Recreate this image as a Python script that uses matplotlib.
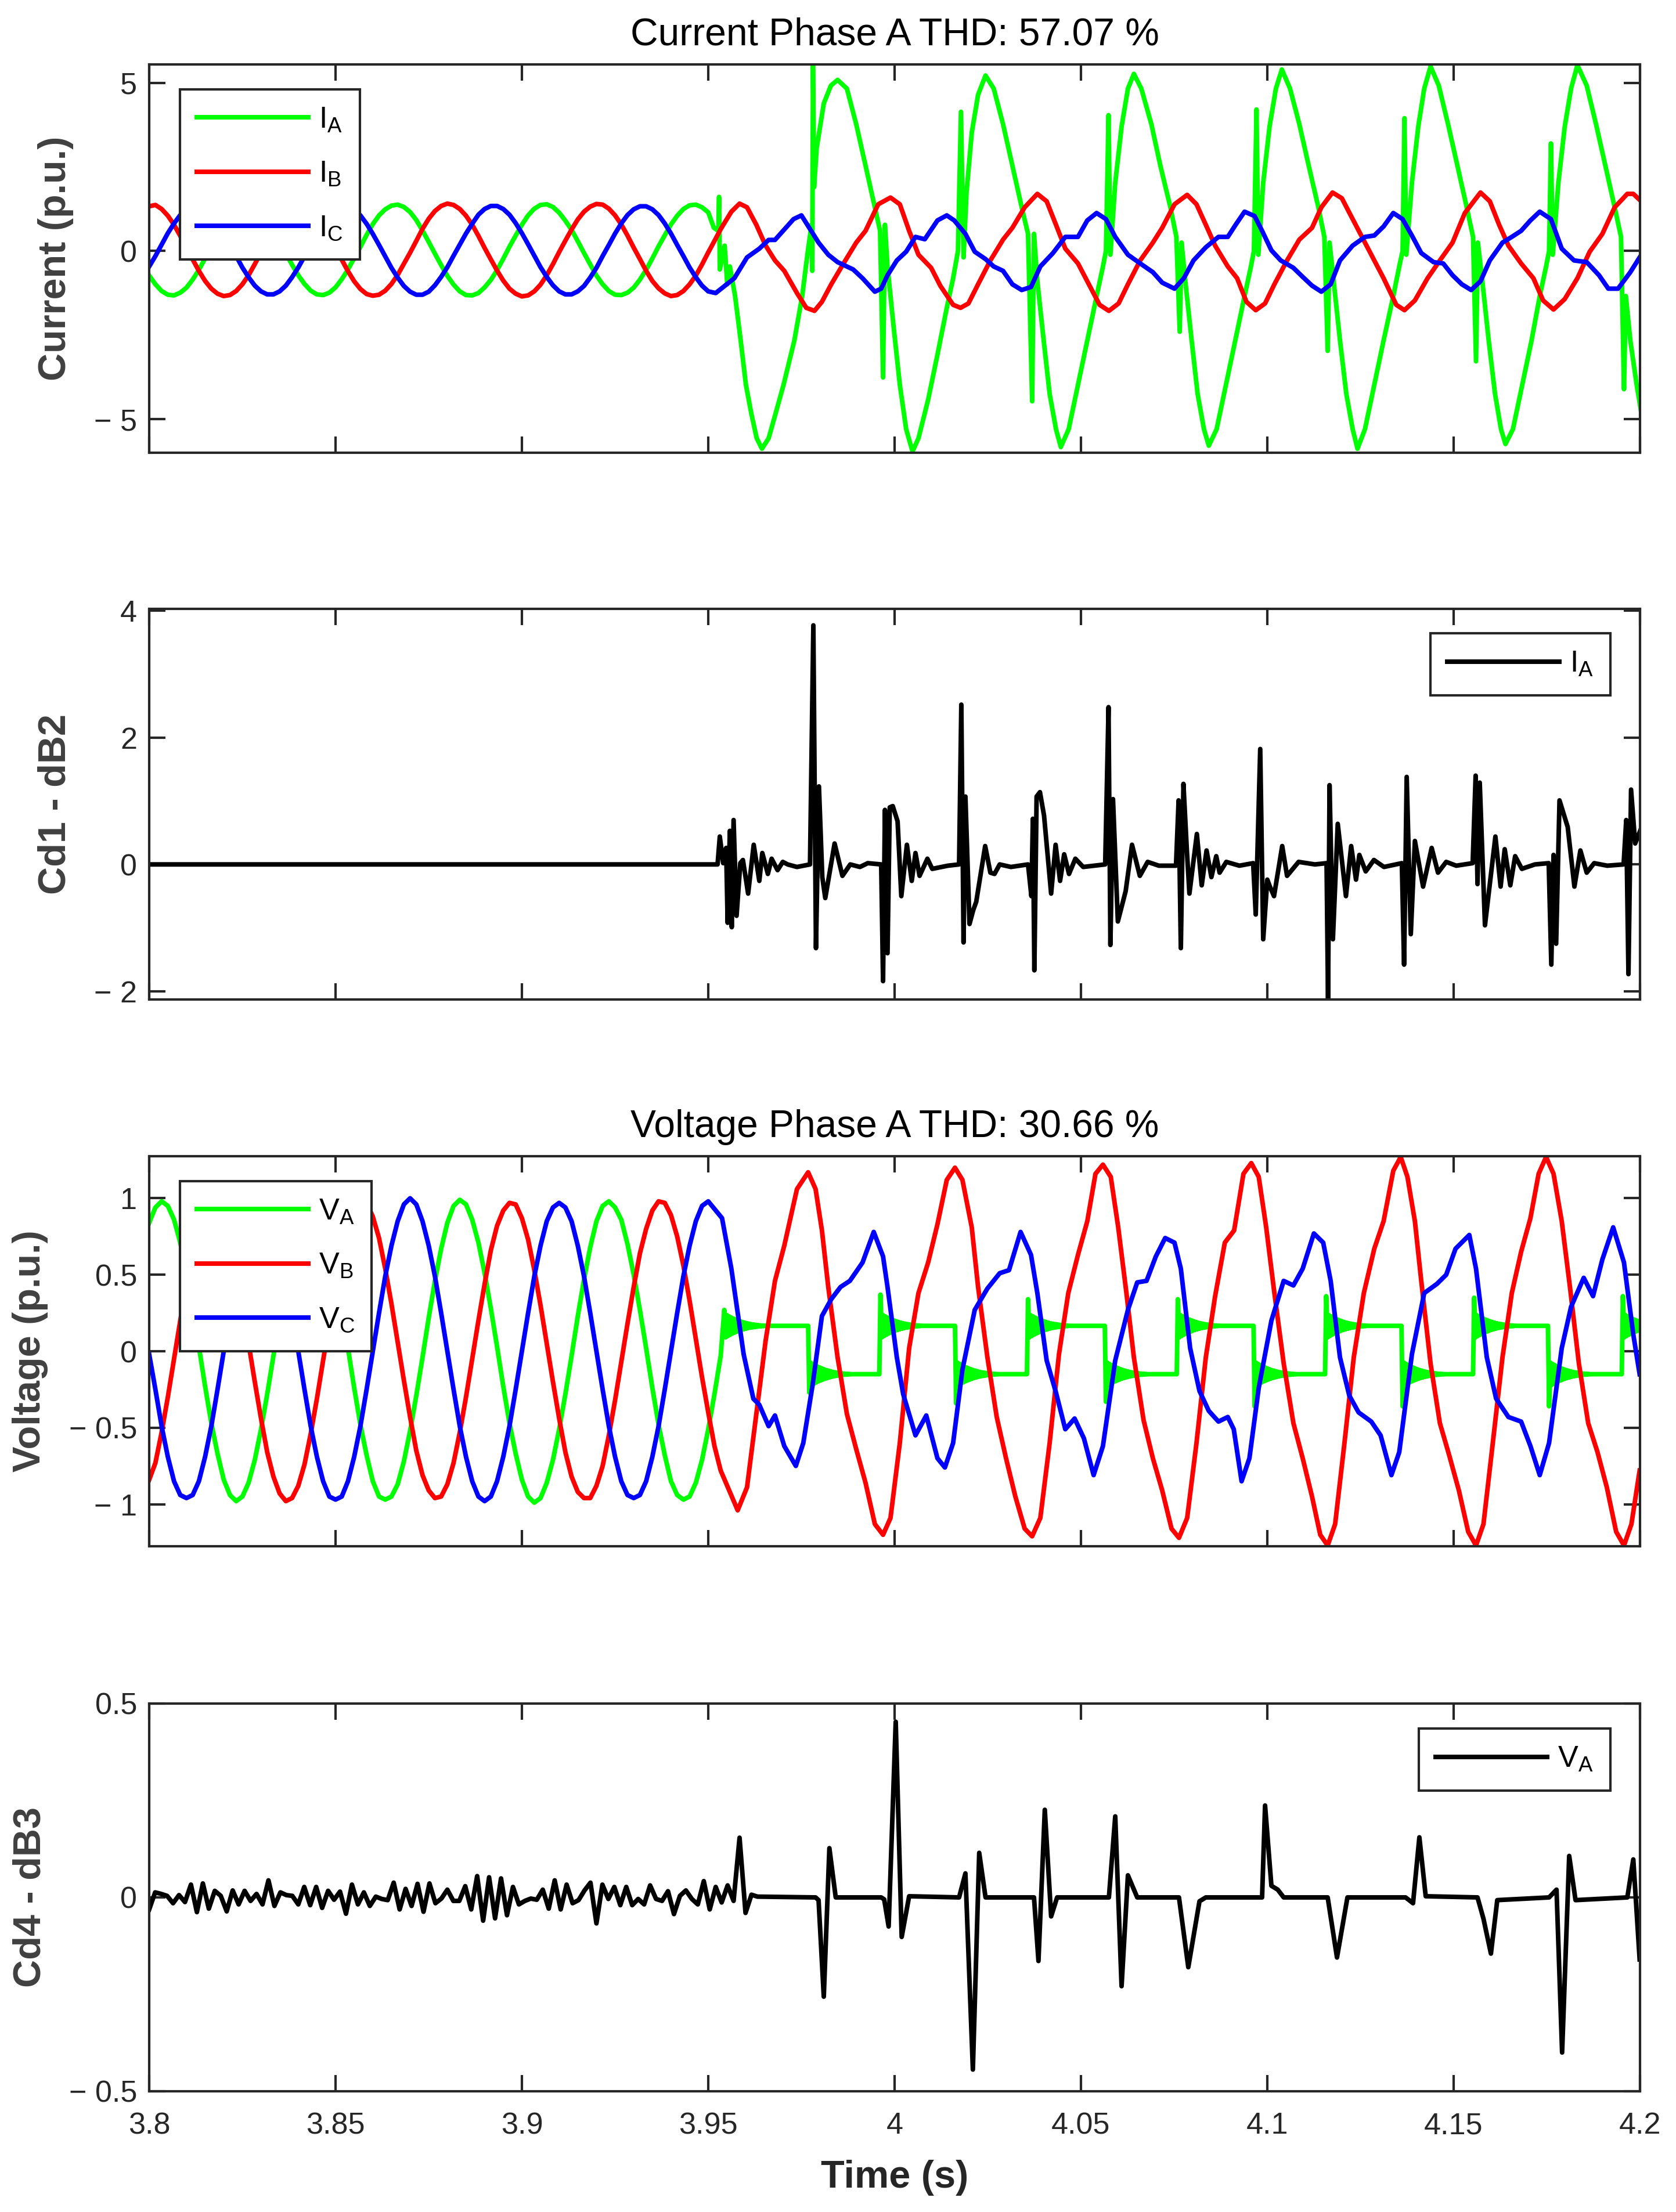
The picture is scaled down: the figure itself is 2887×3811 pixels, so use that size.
import numpy as np
import matplotlib
matplotlib.use("Agg")
import matplotlib.pyplot as plt
from matplotlib.lines import Line2D

plt.rcParams['font.family'] = ['Liberation Sans', 'DejaVu Sans']
plt.rcParams['mathtext.default'] = 'regular'

# ---------------- data ----------------
# pre-fault waveforms, sampled every 1/600 s from 3.8 s
pre_t0, pre_dt = 3.8, 1 / 600

ia_pre = [-0.73, -0.99, -1.19, -1.30, -1.32, -1.24, -1.09, -0.85, -0.56, -0.22, 0.13, 0.47,
          0.79, 1.05, 1.25, 1.36, 1.38, 1.30, 1.15, 0.91, 0.62, 0.28, -0.07, -0.41,
          -0.72, -0.98, -1.18, -1.29, -1.31, -1.24, -1.08, -0.84, -0.55, -0.21, 0.12, 0.48,
          0.80, 1.06, 1.24, 1.35, 1.38, 1.31, 1.16, 0.92, 0.61, 0.27, -0.08, -0.42,
          -0.74, -1.00, -1.20, -1.31, -1.32, -1.25, -1.08, -0.86, -0.57, -0.23, 0.13, 0.46,
          0.78, 1.06, 1.26, 1.37, 1.39, 1.31, 1.14, 0.90, 0.63, 0.29, -0.06, -0.40,
          -0.73, -0.99, -1.19, -1.30, -1.31, -1.24, -1.09, -0.85, -0.56, -0.22, 0.14, 0.47,
          0.79, 1.05, 1.25, 1.36, 1.38, 1.30, 1.15]
ib_pre = [1.33, 1.37, 1.25, 1.05, 0.78, 0.45, 0.10, -0.25, -0.59, -0.89, -1.12, -1.27,
          -1.34, -1.31, -1.19, -0.99, -0.72, -0.39, -0.04, 0.31, 0.65, 0.95, 1.18, 1.33,
          1.40, 1.36, 1.24, 1.04, 0.77, 0.44, 0.11, -0.26, -0.60, -0.90, -1.13, -1.28,
          -1.33, -1.30, -1.18, -0.98, -0.71, -0.38, -0.05, 0.30, 0.66, 0.96, 1.19, 1.34,
          1.41, 1.37, 1.25, 1.05, 0.78, 0.45, 0.09, -0.25, -0.58, -0.88, -1.12, -1.27,
          -1.35, -1.32, -1.20, -1.00, -0.72, -0.39, -0.03, 0.31, 0.64, 0.94, 1.17, 1.32,
          1.40, 1.38, 1.26, 1.06, 0.79, 0.46, 0.10, -0.24, -0.59, -0.89, -1.11, -1.26,
          -1.34, -1.31, -1.19, -0.99, -0.73, -0.40, -0.04, 0.30, 0.65]
ic_pre = [-0.46, -0.15, 0.19, 0.53, 0.82, 1.07, 1.24, 1.33, 1.33, 1.24, 1.07, 0.82,
          0.53, 0.19, -0.15, -0.49, -0.78, -1.03, -1.20, -1.29, -1.29, -1.20, -1.03, -0.78,
          -0.49, -0.16, 0.20, 0.54, 0.83, 1.06, 1.23, 1.32, 1.32, 1.23, 1.06, 0.81,
          0.51, 0.18, -0.16, -0.50, -0.79, -1.04, -1.21, -1.30, -1.30, -1.21, -1.02, -0.77,
          -0.48, -0.14, 0.19, 0.52, 0.81, 1.08, 1.25, 1.34, 1.34, 1.25, 1.08, 0.83,
          0.53, 0.20, -0.14, -0.48, -0.77, -1.02, -1.20, -1.29, -1.29, -1.20, -1.04, -0.79,
          -0.50, -0.15, 0.18, 0.52, 0.82, 1.07, 1.24, 1.33, 1.33, 1.24, 1.07, 0.82,
          0.52, 0.18, -0.15, -0.49, -0.78, -1.03, -1.20]

ia_post = [(3.9515, 0.69), (3.9527, 0.60), (3.9529, 1.61), (3.9531, -0.55), (3.9544, 0.16),
           (3.9551, -0.99), (3.9558, -0.46), (3.9572, -1.34), (3.9587, -2.66), (3.9601, -3.98),
           (3.9616, -4.86), (3.9630, -5.57), (3.9644, -5.88), (3.9662, -5.57), (3.9680, -4.86),
           (3.9702, -3.98), (3.9731, -2.66), (3.9752, -1.34), (3.9767, -0.02), (3.9777, 0.78),
           (3.9779, -0.59), (3.9781, 5.55), (3.9784, 1.90), (3.9791, 3.07), (3.9810, 4.39),
           (3.9829, 4.92),
           (3.9847, 5.09), (3.9872, 4.83), (3.9897, 3.77), (3.9922, 2.54), (3.9947, 1.30),
           (3.9961, 0.60), (3.9969, -3.76), (3.9974, 0.78), (3.9981, -0.46), (3.9997, -2.22),
           (4.0014, -3.98), (4.0031, -5.30), (4.0048, -5.96), (4.0064, -5.57), (4.0090, -4.42),
           (4.0115, -3.08), (4.0140, -1.69), (4.0157, -0.81), (4.0170, 0.00), (4.0178, 4.14),
           (4.0185, -0.19), (4.0193, 1.74), (4.0207, 3.52), (4.0224, 4.65), (4.0244, 5.22),
           (4.0266, 4.83), (4.0291, 3.77), (4.0316, 2.54), (4.0341, 1.30), (4.0358, 0.51),
           (4.0369, -4.47), (4.0374, 0.51), (4.0383, -0.90), (4.0400, -2.66), (4.0416, -4.25),
           (4.0433, -5.30), (4.0446, -5.83), (4.0467, -5.30), (4.0492, -3.98), (4.0517, -2.66),
           (4.0542, -1.34), (4.0559, -0.46), (4.0567, 0.00), (4.0574, 4.04), (4.0579, -0.11),
           (4.0592, 2.03), (4.0609, 3.70), (4.0626, 4.83), (4.0642, 5.27),
           (4.0662, 4.83), (4.0689, 3.77), (4.0713, 2.54), (4.0740, 1.30), (4.0756, 0.42),
           (4.0765, -2.40), (4.0770, 0.25), (4.0780, -0.90), (4.0797, -2.66), (4.0813, -4.25),
           (4.0830, -5.30), (4.0843, -5.79), (4.0864, -5.30), (4.0889, -3.98), (4.0914, -2.66),
           (4.0939, -1.34), (4.0956, -0.46), (4.0964, 0.00), (4.0971, 4.21), (4.0976, -0.11),
           (4.0989, 2.03), (4.1006, 3.70), (4.1023, 4.83), (4.1039, 5.40),
           (4.1061, 4.83), (4.1086, 3.77), (4.1111, 2.54), (4.1137, 1.30), (4.1153, 0.42),
           (4.1162, -2.97), (4.1167, 0.25), (4.1178, -0.90), (4.1195, -2.66), (4.1212, -4.25),
           (4.1229, -5.30), (4.1242, -5.88), (4.1262, -5.30), (4.1287, -3.98), (4.1312, -2.66),
           (4.1338, -1.34), (4.1354, -0.46), (4.1363, 0.00), (4.1368, 3.95), (4.1373, -0.11),
           (4.1388, 2.03), (4.1405, 3.70), (4.1421, 4.83), (4.1438, 5.49),
           (4.1460, 4.92), (4.1485, 3.77), (4.1510, 2.54), (4.1535, 1.30), (4.1552, 0.42),
           (4.1560, -3.28), (4.1565, 0.25), (4.1577, -0.90), (4.1594, -2.66), (4.1611, -4.25),
           (4.1627, -5.30), (4.1639, -5.74), (4.1659, -5.30), (4.1684, -3.98), (4.1709, -2.66),
           (4.1731, -1.34), (4.1748, -0.46), (4.1756, 0.00), (4.1761, 3.20), (4.1766, -0.11),
           (4.1781, 2.03), (4.1798, 3.70), (4.1815, 4.83), (4.1832, 5.53),
           (4.1857, 4.92), (4.1882, 3.77), (4.1907, 2.54), (4.1932, 1.30), (4.1949, 0.42),
           (4.1957, -4.11), (4.1962, -1.34), (4.1974, -2.66), (4.1991, -3.98), (4.2003, -4.78)]

ib_post = [(3.9562, 1.17), (3.9584, 1.41), (3.9604, 1.30), (3.9629, 0.78), (3.9654, 0.16),
           (3.9679, -0.28), (3.9704, -0.59), (3.9738, -1.25), (3.9763, -1.69), (3.9785, -1.78),
           (3.9805, -1.51), (3.9830, -0.99), (3.9863, -0.37), (3.9897, 0.25), (3.9922, 0.60),
           (3.9956, 1.39), (3.9989, 1.59), (4.0014, 1.39), (4.0039, 0.60), (4.0064, -0.11),
           (4.0098, -0.50), (4.0123, -1.04), (4.0157, -1.60), (4.0177, -1.69), (4.0198, -1.56),
           (4.0224, -0.99), (4.0257, -0.28), (4.0291, 0.34), (4.0316, 0.69), (4.0349, 1.30),
           (4.0383, 1.70), (4.0408, 1.48), (4.0433, 0.78), (4.0458, 0.07), (4.0492, -0.37),
           (4.0517, -0.90), (4.0550, -1.60), (4.0575, -1.78), (4.0601, -1.56), (4.0626, -0.99),
           (4.0659, -0.28), (4.0693, 0.25), (4.0718, 0.69), (4.0751, 1.39), (4.0785, 1.67),
           (4.0810, 1.39), (4.0835, 0.78), (4.0860, 0.16), (4.0894, -0.46), (4.0919, -0.81),
           (4.0944, -1.51), (4.0969, -1.76), (4.0994, -1.56), (4.1019, -0.99), (4.1053, -0.28),
           (4.1086, 0.34), (4.1120, 0.69), (4.1145, 1.30), (4.1175, 1.74), (4.1200, 1.57),
           (4.1229, 0.95), (4.1262, 0.25), (4.1287, -0.28), (4.1312, -0.81), (4.1346, -1.60),
           (4.1368, -1.76), (4.1396, -1.47), (4.1430, -0.81), (4.1463, -0.28), (4.1497, 0.25),
           (4.1530, 1.13), (4.1572, 1.74), (4.1597, 1.48), (4.1622, 0.78), (4.1647, 0.16),
           (4.1681, -0.37), (4.1714, -0.81), (4.1740, -1.47), (4.1768, -1.74), (4.1798, -1.43),
           (4.1832, -0.81), (4.1865, -0.02), (4.1899, 0.51), (4.1932, 1.30), (4.1966, 1.70),
           (4.1982, 1.70), (4.2003, 1.48)]

ic_post = [(3.9520, -1.25), (3.9570, -0.81), (3.9604, -0.19), (3.9637, 0.07), (3.9662, 0.33),
           (3.9679, 0.33), (3.9704, 0.64), (3.9729, 0.95), (3.9750, 1.06), (3.9771, 0.69),
           (3.9796, 0.25), (3.9822, -0.11), (3.9847, -0.33), (3.9889, -0.55), (3.9914, -0.81),
           (3.9947, -1.21), (3.9964, -1.12), (3.9981, -0.72), (4.0006, -0.28), (4.0031, -0.02),
           (4.0056, 0.42), (4.0081, 0.35), (4.0115, 0.91), (4.0140, 1.06), (4.0160, 0.91),
           (4.0190, 0.51), (4.0215, -0.02), (4.0244, -0.24), (4.0266, -0.46), (4.0291, -0.59),
           (4.0316, -0.99), (4.0341, -1.16), (4.0366, -1.07), (4.0391, -0.46), (4.0425, -0.06),
           (4.0458, 0.42), (4.0492, 0.42), (4.0517, 0.91), (4.0542, 1.13), (4.0567, 0.95),
           (4.0592, 0.42), (4.0626, -0.11), (4.0659, -0.37), (4.0693, -0.63), (4.0718, -0.94),
           (4.0751, -1.12), (4.0776, -0.81), (4.0802, -0.28), (4.0835, 0.11), (4.0869, 0.42),
           (4.0894, 0.42), (4.0915, 0.78), (4.0939, 1.17), (4.0966, 1.04), (4.0986, 0.60),
           (4.1011, 0.02), (4.1036, -0.28), (4.1070, -0.50), (4.1095, -0.77), (4.1120, -1.03),
           (4.1145, -1.21), (4.1170, -0.99), (4.1195, -0.28), (4.1229, 0.16), (4.1262, 0.42),
           (4.1287, 0.46), (4.1312, 0.73), (4.1338, 1.13), (4.1363, 0.95), (4.1388, 0.46),
           (4.1413, -0.06), (4.1446, -0.33), (4.1472, -0.37), (4.1497, -0.72), (4.1522, -0.99),
           (4.1547, -1.16), (4.1572, -0.90), (4.1597, -0.28), (4.1631, 0.25), (4.1656, 0.42),
           (4.1681, 0.60), (4.1706, 0.91), (4.1731, 1.17), (4.1761, 0.95), (4.1790, 0.07),
           (4.1823, -0.28), (4.1857, -0.33), (4.1890, -0.72), (4.1915, -1.12), (4.1941, -1.12),
           (4.1974, -0.63), (4.1999, -0.19)]

cd1 = [(3.8000, 0.0), (3.9525, 0.0), (3.9531, 0.44), (3.9540, 0.02), (3.9548, 0.26),
       (3.9552, -0.92), (3.9558, 0.53), (3.9563, -0.99), (3.9568, 0.70), (3.9576, -0.81),
       (3.9586, 0.02), (3.9593, 0.07), (3.9607, -0.46), (3.9622, 0.31), (3.9637, -0.26),
       (3.9645, 0.18), (3.9660, -0.15), (3.9670, 0.09), (3.9686, -0.09), (3.9700, 0.04),
       (3.9713, 0.0), (3.9738, -0.04), (3.9773, 0.0), (3.9782, 3.77), (3.9789, -1.32),
       (3.9797, 1.23), (3.9806, -0.20), (3.9814, -0.53), (3.9839, 0.33), (3.9860, -0.18),
       (3.9881, 0.0), (3.9907, -0.04), (3.9928, 0.02), (3.9964, 0.0), (3.9969, -1.84),
       (3.9974, 0.86), (3.9981, -1.40), (3.9987, 0.90), (3.9995, 0.92), (4.0008, 0.68),
       (4.0018, -0.50), (4.0033, 0.31), (4.0046, -0.26), (4.0056, 0.18), (4.0067, -0.18),
       (4.0088, 0.09), (4.0101, -0.07), (4.0143, -0.02), (4.0173, 0.0), (4.0179, 2.52),
       (4.0185, -1.23), (4.0190, 1.07), (4.0201, -0.94), (4.0211, -0.72), (4.0219, -0.59),
       (4.0243, 0.29), (4.0257, -0.13), (4.0268, -0.15), (4.0282, 0.0), (4.0312, -0.04),
       (4.0358, 0.0), (4.0367, -0.50), (4.0371, 0.72), (4.0375, -1.67), (4.0381, 1.07),
       (4.0390, 1.14), (4.0401, 0.77), (4.0420, -0.46), (4.0432, 0.31), (4.0444, -0.26),
       (4.0455, 0.16), (4.0468, -0.15), (4.0485, 0.09), (4.0506, -0.04), (4.0565, 0.0),
       (4.0574, 2.48), (4.0579, -1.27), (4.0586, 1.03), (4.0599, -0.90), (4.0620, -0.42),
       (4.0637, 0.31), (4.0658, -0.18), (4.0679, 0.04), (4.0709, -0.02), (4.0755, -0.02),
       (4.0762, 1.01), (4.0768, -1.32), (4.0775, 1.27), (4.0784, 0.24), (4.0791, -0.46),
       (4.0811, 0.48), (4.0824, -0.33), (4.0837, 0.22), (4.0850, -0.20), (4.0863, 0.13),
       (4.0872, -0.13), (4.0890, 0.04), (4.0925, -0.02), (4.0962, 0.02), (4.0969, -0.79),
       (4.0981, 1.82), (4.0989, -1.18), (4.1000, -0.24), (4.1007, -0.35), (4.1018, -0.50),
       (4.1040, 0.29), (4.1053, -0.18), (4.1084, 0.04), (4.1128, 0.0), (4.1159, 0.02),
       (4.1163, -2.13), (4.1167, 1.25), (4.1176, -1.18), (4.1189, 0.64), (4.1211, -0.50),
       (4.1225, 0.29), (4.1238, -0.24), (4.1247, 0.15), (4.1264, -0.11), (4.1286, 0.07),
       (4.1313, -0.04), (4.1361, 0.02), (4.1367, -1.58), (4.1374, 1.38), (4.1385, -1.10),
       (4.1396, 0.37), (4.1418, -0.35), (4.1441, 0.26), (4.1458, -0.13), (4.1480, 0.04),
       (4.1507, -0.02), (4.1551, 0.02), (4.1559, 1.40), (4.1564, -0.31), (4.1570, 1.29),
       (4.1584, -0.96), (4.1612, 0.44), (4.1626, -0.35), (4.1637, 0.24), (4.1652, -0.33),
       (4.1665, 0.13), (4.1683, -0.07), (4.1718, 0.0), (4.1755, 0.02), (4.1762, -1.58),
       (4.1768, 0.15), (4.1775, -1.25), (4.1784, 1.01), (4.1806, 0.59), (4.1824, -0.35),
       (4.1840, 0.22), (4.1857, -0.13), (4.1877, 0.02), (4.1912, -0.02), (4.1956, 0.0),
       (4.1963, 0.70), (4.1969, -1.73), (4.1976, 1.18), (4.1987, 0.33), (4.2003, 0.57)]

va_pre = [0.84, 0.94, 0.98, 0.95, 0.86, 0.71, 0.51, 0.28, 0.03, -0.23, -0.47, -0.67,
          -0.84, -0.94, -0.98, -0.95, -0.86, -0.71, -0.51, -0.28, -0.03, 0.23, 0.47, 0.67,
          0.85, 0.94, 0.97, 0.94, 0.85, 0.70, 0.50, 0.27, 0.02, -0.24, -0.48, -0.68,
          -0.85, -0.95, -0.97, -0.95, -0.87, -0.72, -0.52, -0.29, -0.04, 0.22, 0.46, 0.67,
          0.84, 0.95, 0.99, 0.96, 0.86, 0.71, 0.51, 0.28, 0.03, -0.23, -0.47, -0.67,
          -0.84, -0.95, -0.99, -0.96, -0.86, -0.71, -0.51, -0.28, -0.03, 0.23, 0.47, 0.68,
          0.85, 0.95, 0.98, 0.94, 0.86, 0.70, 0.50, 0.27, 0.02, -0.24, -0.48, -0.68,
          -0.85, -0.94, -0.97, -0.95, -0.86, -0.71, -0.51, -0.28, -0.03]
vb_pre = [-0.84, -0.73, -0.53, -0.30, -0.05, 0.20, 0.44, 0.66, 0.82, 0.93, 0.98, 0.96,
          0.87, 0.73, 0.53, 0.30, 0.05, -0.20, -0.44, -0.66, -0.82, -0.93, -0.98, -0.96,
          -0.88, -0.74, -0.54, -0.31, -0.06, 0.19, 0.43, 0.65, 0.81, 0.93, 0.99, 0.97,
          0.88, 0.74, 0.54, 0.31, 0.06, -0.19, -0.43, -0.65, -0.81, -0.91, -0.96, -0.95,
          -0.87, -0.73, -0.53, -0.30, -0.05, 0.20, 0.44, 0.66, 0.82, 0.92, 0.97, 0.96,
          0.87, 0.73, 0.53, 0.30, 0.05, -0.20, -0.44, -0.66, -0.82, -0.92, -0.96, -0.96,
          -0.88, -0.75, -0.55, -0.32, -0.07, 0.18, 0.42, 0.64, 0.80, 0.92, 0.98, 0.97,
          0.89, 0.75, 0.56, 0.33, 0.08, -0.17, -0.40, -0.62, -0.78]
vc_pre = [-0.02, -0.25, -0.49, -0.69, -0.85, -0.94, -0.96, -0.94, -0.85, -0.69, -0.49, -0.25,
          0.00, 0.25, 0.49, 0.69, 0.85, 0.95, 0.98, 0.95, 0.85, 0.69, 0.49, 0.25,
          0.00, -0.25, -0.49, -0.69, -0.85, -0.95, -0.97, -0.95, -0.85, -0.69, -0.49, -0.25,
          0.00, 0.25, 0.49, 0.69, 0.85, 0.96, 1.00, 0.96, 0.85, 0.69, 0.49, 0.25,
          0.00, -0.25, -0.49, -0.69, -0.85, -0.95, -0.98, -0.95, -0.85, -0.69, -0.49, -0.25,
          0.00, 0.25, 0.49, 0.69, 0.85, 0.94, 0.97, 0.94, 0.85, 0.69, 0.49, 0.25,
          0.00, -0.25, -0.49, -0.69, -0.85, -0.94, -0.96, -0.94, -0.85, -0.69, -0.49, -0.25,
          0.00, 0.25, 0.49, 0.69, 0.85, 0.95, 0.98]

# VA after the fault: flat levels with ringing after each edge
va_edge_t = [3.9543, 3.9771, 3.9962, 4.0165, 4.0358, 4.0567, 4.0760, 4.0966, 4.1158,
             4.1363, 4.1555, 4.1756, 4.1954]
va_edge_spike = [0.27, -0.27, 0.37, -0.34, 0.34, -0.33, 0.34, -0.36, 0.36, -0.36, 0.35,
                 -0.36, 0.36]
va_high, va_low = 0.166, -0.15
ring_dt = [0.0004, 0.0007, 0.0010, 0.0013, 0.0016, 0.0019, 0.0022, 0.0025, 0.0028, 0.0031,
           0.0034, 0.0037, 0.0040, 0.0043, 0.0046, 0.0049, 0.0052, 0.0055, 0.0058, 0.0061,
           0.0064, 0.0067, 0.0070, 0.0073, 0.0076, 0.0079, 0.0082, 0.0085, 0.0088, 0.0091,
           0.0094, 0.0097, 0.0100, 0.0103, 0.0106, 0.0109, 0.0115]
ring_dv = [0.075, -0.070, 0.066, -0.062, 0.058, -0.054, 0.050, -0.047, 0.044, -0.041,
           0.038, -0.035, 0.032, -0.030, 0.027, -0.025, 0.023, -0.021, 0.019, -0.017,
           0.015, -0.014, 0.012, -0.011, 0.010, -0.009, 0.008, -0.007, 0.006, -0.005,
           0.004, -0.0035, 0.003, -0.0025, 0.002, -0.001, 0.0]

vb_post = [(3.9579, -1.04), (3.9604, -0.89), (3.9629, -0.41), (3.9654, 0.07), (3.9679, 0.46),
           (3.9704, 0.69), (3.9738, 1.06), (3.9768, 1.17), (3.9788, 1.06), (3.9805, 0.79),
           (3.9822, 0.42), (3.9847, -0.04), (3.9872, -0.41), (3.9897, -0.64), (3.9922, -0.86),
           (3.9947, -1.13), (3.9969, -1.20), (3.9989, -1.09), (4.0014, -0.60), (4.0039, 0.02),
           (4.0064, 0.38), (4.0090, 0.58), (4.0115, 0.83), (4.0140, 1.12), (4.0162, 1.20),
           (4.0182, 1.12), (4.0207, 0.81), (4.0224, 0.42), (4.0249, -0.04), (4.0274, -0.43),
           (4.0299, -0.70), (4.0324, -0.95), (4.0349, -1.16), (4.0369, -1.21), (4.0391, -1.09),
           (4.0416, -0.60), (4.0441, -0.02), (4.0466, 0.38), (4.0492, 0.63), (4.0517, 0.85),
           (4.0539, 1.16), (4.0559, 1.22), (4.0580, 1.14), (4.0600, 0.81), (4.0622, 0.38),
           (4.0642, -0.04), (4.0668, -0.45), (4.0693, -0.70), (4.0718, -0.91), (4.0743, -1.16),
           (4.0763, -1.22), (4.0785, -1.09), (4.0810, -0.60), (4.0835, -0.04), (4.0860, 0.36),
           (4.0886, 0.71), (4.0911, 0.79), (4.0936, 1.16), (4.0957, 1.23), (4.0977, 1.14),
           (4.0997, 0.81), (4.1019, 0.38), (4.1044, -0.08), (4.1070, -0.47), (4.1095, -0.70),
           (4.1120, -0.95), (4.1142, -1.20), (4.1162, -1.27), (4.1182, -1.13), (4.1207, -0.60),
           (4.1232, -0.04), (4.1259, 0.38), (4.1287, 0.67), (4.1312, 0.85), (4.1338, 1.18),
           (4.1358, 1.27), (4.1376, 1.14), (4.1396, 0.85), (4.1413, 0.46), (4.1438, -0.08),
           (4.1463, -0.47), (4.1488, -0.68), (4.1514, -0.91), (4.1539, -1.18), (4.1560, -1.27),
           (4.1580, -1.13), (4.1605, -0.60), (4.1631, -0.04), (4.1656, 0.38), (4.1681, 0.65),
           (4.1706, 0.87), (4.1728, 1.16), (4.1748, 1.27), (4.1768, 1.16), (4.1790, 0.85),
           (4.1812, 0.42), (4.1836, -0.08), (4.1861, -0.47), (4.1886, -0.66), (4.1911, -0.89),
           (4.1936, -1.18), (4.1957, -1.27), (4.1977, -1.13), (4.1999, -0.78)]

vc_post = [(3.9537, 0.87), (3.9562, 0.54), (3.9595, -0.02), (3.9621, -0.31), (3.9637, -0.35),
           (3.9662, -0.49), (3.9679, -0.42), (3.9704, -0.62), (3.9735, -0.75), (3.9755, -0.60),
           (3.9780, -0.22), (3.9805, 0.23), (3.9830, 0.34), (3.9855, 0.42), (3.9880, 0.46),
           (3.9914, 0.58), (3.9944, 0.78), (3.9969, 0.62), (3.9981, 0.42), (4.0006, -0.04),
           (4.0023, -0.28), (4.0056, -0.55), (4.0085, -0.42), (4.0115, -0.70), (4.0135, -0.76),
           (4.0157, -0.60), (4.0182, -0.12), (4.0215, 0.27), (4.0249, 0.41), (4.0282, 0.51),
           (4.0307, 0.53), (4.0338, 0.78), (4.0366, 0.63), (4.0383, 0.38), (4.0408, -0.06),
           (4.0433, -0.27), (4.0458, -0.51), (4.0483, -0.44), (4.0508, -0.57), (4.0534, -0.81),
           (4.0559, -0.62), (4.0592, -0.06), (4.0626, 0.27), (4.0651, 0.45), (4.0676, 0.46),
           (4.0701, 0.62), (4.0726, 0.74), (4.0751, 0.71), (4.0768, 0.54), (4.0793, 0.02),
           (4.0818, -0.26), (4.0843, -0.39), (4.0869, -0.46), (4.0894, -0.43), (4.0910, -0.51),
           (4.0931, -0.85), (4.0952, -0.70), (4.0977, -0.24), (4.1011, 0.20), (4.1044, 0.46),
           (4.1070, 0.43), (4.1095, 0.54), (4.1125, 0.77), (4.1150, 0.71), (4.1170, 0.46),
           (4.1195, -0.04), (4.1220, -0.29), (4.1245, -0.40), (4.1279, -0.46), (4.1304, -0.55),
           (4.1333, -0.81), (4.1354, -0.66), (4.1388, -0.02), (4.1421, 0.38), (4.1455, 0.44),
           (4.1480, 0.50), (4.1505, 0.67), (4.1542, 0.76), (4.1560, 0.54), (4.1589, -0.04),
           (4.1614, -0.31), (4.1647, -0.43), (4.1681, -0.46), (4.1706, -0.62), (4.1731, -0.81),
           (4.1756, -0.60), (4.1790, 0.02), (4.1815, 0.29), (4.1849, 0.48), (4.1874, 0.36),
           (4.1899, 0.60), (4.1928, 0.81), (4.1957, 0.58), (4.1982, 0.11), (4.1999, -0.15)]

# Cd4 detail: pre-fault noise sampled every 1.6 ms from 3.8 s, then spikes
cd4_noise_t0, cd4_noise_dt = 3.8, 0.0016
cd4_noise = [-0.031, 0.013, 0.009, 0.004, -0.015, 0.006, -0.012, 0.033, -0.038, 0.036,
             -0.029, 0.017, 0.004, -0.036, 0.018, -0.018, 0.017, -0.009, 0.009, -0.018,
             0.044, -0.022, 0.013, 0.006, 0.004, -0.018, 0.027, -0.020, 0.027, -0.027,
             0.017, -0.006, 0.015, -0.042, 0.033, -0.018, 0.013, -0.022, 0.002, -0.004,
             -0.007, 0.038, -0.031, 0.022, -0.022, 0.035, -0.037, 0.036, -0.015, -0.003,
             0.020, -0.009, -0.009, 0.029, -0.031, 0.055, -0.060, 0.052, -0.054, 0.049,
             -0.046, 0.027, -0.018, -0.009, -0.003, -0.006, 0.020, -0.029, 0.044, -0.031,
             0.033, -0.015, -0.007, 0.018, 0.038, -0.067, 0.033, -0.004, 0.027, -0.020,
             0.027, -0.020, -0.004, -0.018, 0.031, -0.004, -0.009, 0.016, -0.043, 0.004,
             0.018, -0.004, -0.018, 0.042, -0.031, 0.027, -0.013, 0.031, -0.009, 0.154,
             -0.040, 0.007, 0.002]
cd4_post = [(3.9788, 0.0), (3.9796, -0.007), (3.9810, -0.256), (3.9825, 0.127), (3.9842, 0.0),
            (3.9964, 0.0), (3.9972, -0.005), (3.9984, -0.075), (4.0003, 0.453), (4.0019, -0.102),
            (4.0039, 0.003), (4.0173, 0.0), (4.0190, 0.062), (4.0210, -0.444), (4.0227, 0.115),
            (4.0244, 0.0), (4.0374, 0.0), (4.0386, -0.164), (4.0403, 0.226), (4.0420, -0.049),
            (4.0436, 0.0), (4.0575, 0.0), (4.0592, 0.209), (4.0609, -0.229), (4.0626, 0.057),
            (4.0651, 0.0), (4.0763, 0.0), (4.0788, -0.18), (4.0818, -0.01), (4.0835, 0.0),
            (4.0986, 0.0), (4.0994, 0.237), (4.1011, 0.03), (4.1028, 0.02), (4.1044, 0.0),
            (4.1162, 0.0), (4.1187, -0.155), (4.1215, 0.0), (4.1371, 0.0), (4.1391, -0.015),
            (4.1408, 0.155), (4.1425, 0.003), (4.1564, 0.0), (4.1580, -0.055), (4.1600, -0.145),
            (4.1617, -0.007), (4.1756, 0.0), (4.1776, 0.02), (4.1791, -0.40), (4.1810, 0.107),
            (4.1827, -0.007), (4.1966, 0.0), (4.1982, 0.098), (4.1999, -0.16)]

x_ticks = [3.8, 3.85, 3.9, 3.95, 4.0, 4.05, 4.1, 4.15, 4.2]
x_tick_labels = ['3.8', '3.85', '3.9', '3.95', '4', '4.05', '4.1', '4.15', '4.2']

GREEN, RED, BLUE, BLACK = (0, 1, 0), (1, 0, 0), (0, 0, 1), (0, 0, 0)
AXC = '#262626'
LBLC = '#404040'
LW = 1.9


def pre_times(n):
    return [pre_t0 + i * pre_dt for i in range(n)]


def join(pre_vals, post_pairs):
    t = pre_times(len(pre_vals)) + [p[0] for p in post_pairs]
    v = list(pre_vals) + [p[1] for p in post_pairs]
    return t, v


def unzip(pairs):
    return [p[0] for p in pairs], [p[1] for p in pairs]


def va_after_fault():
    t, v = [], []
    for i, (t0, s) in enumerate(zip(va_edge_t, va_edge_spike)):
        level = va_high if s > 0 else va_low
        sign = 1 if s > 0 else -1
        if i > 0:
            t.append(t0 - 0.0003)
            v.append(va_low if s > 0 else va_high)
        t.append(t0)
        v.append(s)
        for dt, dv in zip(ring_dt, ring_dv):
            t.append(t0 + dt)
            v.append(level - sign * dv)
    t.append(4.2003)
    v.append(va_high if va_edge_spike[-1] > 0 else va_low)
    return t, v


def style(ax, yticks, ylabels, ylim, ylabel, bottom=False):
    ax.set_xlim(3.8, 4.2)
    ax.set_ylim(*ylim)
    ax.set_yticks(yticks)
    ax.set_yticklabels(ylabels)
    ax.set_xticks(x_ticks)
    if bottom:
        ax.set_xticklabels(x_tick_labels)
    else:
        ax.set_xticklabels([])
    ax.tick_params(direction='in', length=6.7, width=1.0, top=True, right=True,
                   labelsize=12.5, colors=AXC, pad=5)
    ax.tick_params(axis='x', pad=8.5)
    for s in ax.spines.values():
        s.set_color(AXC)
        s.set_linewidth(1.0)
    ax.set_ylabel(ylabel, fontsize=16, fontweight='bold', color=LBLC, labelpad=8.5)


def add_legend(ax, colors, labels, loc, anchor):
    handles = [Line2D([0], [0], color=c, lw=LW) for c in colors]
    leg = ax.legend(handles, labels, loc=loc, bbox_to_anchor=anchor, borderaxespad=0,
                    fancybox=False, framealpha=1, edgecolor=AXC, fontsize=12.5,
                    handlelength=3.7, handletextpad=0.35, labelspacing=0.85,
                    borderpad=0.55)
    leg.get_frame().set_linewidth(1.0)
    return leg


W, H = 2887, 3811
fig = plt.figure(figsize=(W / 300, H / 300), dpi=300)
left, width = 257 / W, 2568 / W
ax1 = fig.add_axes([left, 1 - 780 / H, width, 669 / H])
ax2 = fig.add_axes([left, 1 - 1722 / H, width, 673 / H])
ax3 = fig.add_axes([left, 1 - 2664 / H, width, 672 / H])
ax4 = fig.add_axes([left, 1 - 3603 / H, width, 668 / H])

# panel 1: currents
t, v = join(ia_pre, ia_post)
ax1.plot(t, v, color=GREEN, lw=LW)
t, v = join(ib_pre, ib_post)
ax1.plot(t, v, color=RED, lw=LW)
t, v = join(ic_pre, ic_post)
ax1.plot(t, v, color=BLUE, lw=LW)
style(ax1, [-5, 0, 5], ['\u2212 5', '0', '5'], (-6.0, 5.55), 'Current (p.u.)')
ax1.set_title('Current Phase A THD: 57.07 %', fontsize=15.8, pad=8)
add_legend(ax1, [GREEN, RED, BLUE], ['$I_A$', '$I_B$', '$I_C$'], 'upper left', (0.0206, 0.936))

# panel 2: Cd1 - dB2
t, v = unzip(cd1)
ax2.plot(t, v, color=BLACK, lw=LW)
style(ax2, [-2, 0, 2, 4], ['\u2212 2', '0', '2', '4'], (-2.13, 4.03), 'Cd1 - dB2')
add_legend(ax2, [BLACK], ['$I_A$'], 'upper right', (0.980, 0.937))

# panel 3: voltages
tv, vv = va_after_fault()
t = pre_times(len(va_pre)) + tv
v = list(va_pre) + vv
ax3.plot(t, v, color=GREEN, lw=LW)
t, v = join(vb_pre, vb_post)
ax3.plot(t, v, color=RED, lw=LW)
t, v = join(vc_pre, vc_post)
ax3.plot(t, v, color=BLUE, lw=LW)
style(ax3, [-1, -0.5, 0, 0.5, 1], ['\u2212 1', '\u2212 0.5', '0', '0.5', '1'],
      (-1.275, 1.275), 'Voltage (p.u.)')
ax3.set_title('Voltage Phase A THD: 30.66 %', fontsize=15.8, pad=8)
add_legend(ax3, [GREEN, RED, BLUE], ['$V_A$', '$V_B$', '$V_C$'], 'upper left', (0.0206, 0.936))

# panel 4: Cd4 - dB3
tn = [cd4_noise_t0 + i * cd4_noise_dt for i in range(len(cd4_noise))]
tp, vp = unzip(cd4_post)
ax4.plot(tn + tp, cd4_noise + vp, color=BLACK, lw=LW)
style(ax4, [-0.5, 0, 0.5], ['\u2212 0.5', '0', '0.5'], (-0.5, 0.5), 'Cd4 - dB3', bottom=True)
ax4.set_xlabel('Time (s)', fontsize=16, fontweight='bold', color=AXC, labelpad=8)
add_legend(ax4, [BLACK], ['$V_A$'], 'upper right', (0.980, 0.935))

fig.savefig('out.png', dpi=300)
